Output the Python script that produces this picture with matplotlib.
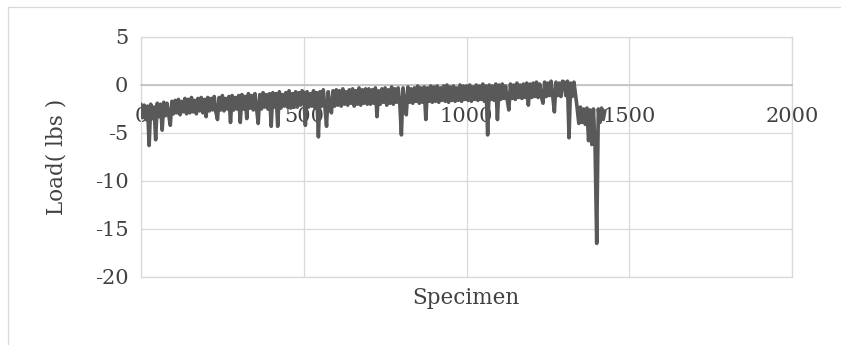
import numpy as np
import matplotlib.pyplot as plt
from matplotlib.lines import Line2D

# load readings, one every 5 specimens (0, 5, 10, ...)
load_rows = [
    [-2.0, -3.4, -2.1, -3.6, -2.2, -6.3, -2.0, -3.5, -2.3, -5.7, -1.9, -3.3, -2.0, -4.7, -1.8, -3.2, -1.9, -3.1, -4.2, -1.7],
    [-3.0, -1.6, -2.9, -1.5, -3.1, -1.7, -2.8, -1.4, -3.0, -1.5, -2.9, -1.3, -2.8, -1.6, -3.0, -1.4, -2.7, -1.3, -2.9, -1.5],
    [-3.3, -1.3, -2.7, -1.4, -2.6, -1.2, -2.8, -3.6, -1.3, -2.6, -1.1, -2.7, -1.4, -2.5, -1.2, -3.9, -1.1, -2.6, -1.3, -2.5],
    [-1.1, -3.9, -1.0, -2.5, -1.2, -3.5, -0.9, -2.4, -1.1, -2.6, -0.9, -2.4, -4.0, -1.0, -2.5, -0.8, -2.3, -1.0, -2.5, -0.9],
    [-4.3, -0.8, -2.3, -0.9, -4.3, -0.7, -2.4, -1.0, -2.2, -0.8, -2.3, -0.6, -2.4, -0.9, -2.2, -0.7, -2.3, -0.8, -2.1, -0.6],
    [-0.8, -4.2, -0.7, -2.3, -0.9, -2.2, -0.6, -2.4, -0.8, -5.4, -0.7, -2.2, -0.5, -2.3, -4.3, -0.7, -2.1, -2.9, -0.6, -2.2],
    [-0.5, -2.1, -0.6, -2.2, -0.4, -2.0, -0.7, -2.1, -0.5, -1.9, -0.4, -2.2, -0.6, -2.0, -0.3, -2.1, -0.5, -1.9, -0.4, -2.0],
    [-0.4, -2.0, -0.5, -1.9, -0.3, -3.3, -0.6, -2.0, -0.4, -1.8, -0.3, -2.1, -0.5, -1.9, -0.2, -2.0, -0.4, -1.8, -0.3, -1.9],
    [-5.2, -0.3, -1.9, -3.1, -0.2, -1.8, -0.4, -1.9, -0.3, -1.7, -0.1, -1.9, -0.3, -1.8, -0.2, -3.6, -0.3, -1.7, -0.1, -1.8],
    [-0.2, -1.7, -0.1, -1.8, -0.3, -1.6, -0.1, -1.7, 0.0, -1.8, -0.2, -1.6, -0.1, -1.7, -0.3, -1.6, 0.0, -1.7, -0.1, -1.5],
    [-0.1, -1.6, 0.0, -1.7, -0.2, -1.5, 0.0, -1.6, -0.1, -1.5, 0.1, -1.7, -0.1, -5.2, 0.0, -1.5, -0.1, -1.6, 0.1, -3.6],
    [0.0, -1.5, 0.1, -1.4, -0.1, -1.5, -2.6, 0.1, -1.4, 0.0, -1.5, 0.2, -1.3, 0.0, -1.4, 0.1, -1.3, 0.2, -2.1, 0.1],
    [-1.3, 0.2, -1.2, 0.3, -1.3, 0.1, -1.2, -1.9, 0.3, -1.2, 0.2, -1.1, 0.4, -1.2, -2.8, 0.3, -1.1, 0.2, -1.2, 0.4],
    [0.3, -1.1, 0.4, -5.5, 0.2, -1.2, 0.3, -1.0, -2.4, -4.0, -2.3, -3.9, -2.5, -4.1, -2.4, -5.8, -2.6, -6.2, -2.5, -6.4],
    [-16.5, -2.5, -3.9, -2.4, -3.6, -2.7],
]
load = np.concatenate(load_rows)
specimen = np.arange(len(load)) * 5

x_ticks = [0, 500, 1000, 1500, 2000]
y_ticks = [5, 0, -5, -10, -15, -20]

plt.rcParams['font.family'] = ['DejaVu Serif']
plt.rcParams['axes.unicode_minus'] = False
plt.rcParams['path.simplify'] = False  # keep every point of the dense trace
text_col = '#404040'
grid_col = '#d9d9d9'

fig = plt.figure(figsize=(8.41, 3.45), dpi=100)
ax = fig.add_axes([141 / 841, 1 - 277 / 345, 651 / 841, 240 / 345])

ax.plot(specimen, load, color='#595959', lw=2.6, solid_joinstyle='round', solid_capstyle='round', zorder=3)

ax.set_xlim(0, 2000)
ax.set_ylim(-20, 5)
ax.set_xticks(x_ticks)
ax.set_yticks(y_ticks)
ax.grid(True, color=grid_col, lw=0.9)
ax.set_axisbelow(True)

for s in ['left', 'right', 'top']:
    ax.spines[s].set_color(grid_col)
    ax.spines[s].set_linewidth(0.9)
ax.spines['bottom'].set_position(('data', 0))
ax.spines['bottom'].set_color('#bfbfbf')
ax.spines['bottom'].set_linewidth(1.2)
ax.axhline(-20, color=grid_col, lw=0.9, clip_on=False)

ax.tick_params(length=0, labelsize=15, colors=text_col)
ax.tick_params(axis='x', pad=16)
ax.tick_params(axis='y', pad=9)

fig.text(57 / 841, 1 - 157 / 345, 'Load( lbs )', rotation=90, ha='center', va='center',
         fontsize=15.5, color=text_col)
fig.text(466 / 841, 1 - 298 / 345, 'Specimen', ha='center', va='center', fontsize=15.5, color=text_col)

# outer chart frame
fig.add_artist(Line2D([8 / 841, 1], [1 - 7 / 345, 1 - 7 / 345], transform=fig.transFigure, color=grid_col, lw=0.9))
fig.add_artist(Line2D([8 / 841, 8 / 841], [0, 1 - 7 / 345], transform=fig.transFigure, color=grid_col, lw=0.9))

fig.savefig('out.png', dpi=100)
